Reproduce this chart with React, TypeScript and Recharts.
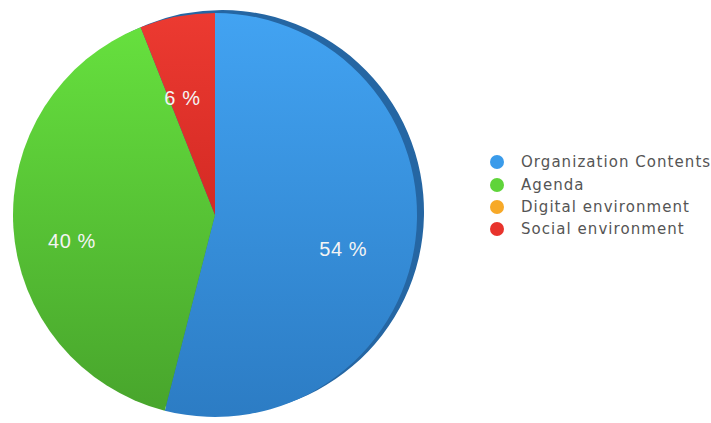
import React from 'react';
import { PieChart, Pie, Cell, Legend } from 'recharts';

const categories = ['Organization Contents', 'Agenda', 'Digital environment', 'Social environment'];
const values = [54, 40, 0, 6];
const colors = ['#3a9bea', '#5fd43a', '#f7a928', '#e8332c'];
const gradTop = ['#42a3f2', '#66e03e', '#f9b13a', '#ec3a31'];
const gradBottom = ['#2c7cc4', '#48a52c', '#e0901c', '#d42a24'];

const data = categories.map((name, i) => ({ name, value: values[i] }));

const RADIAN = Math.PI / 180;

const renderLabel = (props: any) => {
  const { cx, cy, midAngle, outerRadius, value } = props;
  if (!value) return null;
  const r = outerRadius * 0.675;
  const x = cx + r * Math.cos(-midAngle * RADIAN) - 7;
  const y = cy + r * Math.sin(-midAngle * RADIAN) + 17;
  return (
    <text
      x={x}
      y={y}
      fill="#f4f4f4"
      textAnchor="middle"
      dominantBaseline="central"
      style={{ fontFamily: '"Liberation Sans", Arial, sans-serif', fontSize: 20, letterSpacing: 0.6 }}
    >
      {`${value} %`}
    </text>
  );
};

const LegendContent = () => (
  <div style={{ fontFamily: '"DejaVu Sans", Verdana, sans-serif', fontSize: 15, color: '#555' }}>
    {categories.map((c, i) => (
      <div key={c} style={{ display: 'flex', alignItems: 'center', height: 22.4 }}>
        <span
          style={{
            display: 'inline-block',
            width: 14,
            height: 14,
            borderRadius: 7,
            background: colors[i],
            marginRight: 17,
            flexShrink: 0,
          }}
        />
        <span style={{ letterSpacing: 1.05, whiteSpace: 'nowrap' }}>{c}</span>
      </div>
    ))}
  </div>
);

export default function App() {
  return (
    <div style={{ position: 'absolute', left: 0, top: 0, width: 711, height: 423, background: '#fff' }}>
      <PieChart width={711} height={423} margin={{ top: 0, right: 0, bottom: 0, left: 0 }}>
        <defs>
          {categories.map((c, i) => (
            <linearGradient key={c} id={`g${i}`} x1="0" y1="0" x2="0" y2="1">
              <stop offset="0%" stopColor={gradTop[i]} />
              <stop offset="100%" stopColor={gradBottom[i]} />
            </linearGradient>
          ))}
        </defs>
        <Pie
          data={data}
          dataKey="value"
          nameKey="name"
          cx={222}
          cy={212}
          outerRadius={202}
          startAngle={90}
          endAngle={-270}
          stroke="none"
          fill="#2566a3"
          isAnimationActive={false}
          legendType="none"
        >
          {categories.map((c) => (
            <Cell key={c} fill="#2566a3" />
          ))}
        </Pie>
        <Pie
          data={data}
          dataKey="value"
          nameKey="name"
          cx={215}
          cy={215}
          outerRadius={202}
          startAngle={90}
          endAngle={-270}
          stroke="none"
          isAnimationActive={false}
          label={renderLabel}
          labelLine={false}
        >
          {categories.map((c, i) => (
            <Cell key={c} fill={`url(#g${i})`} />
          ))}
        </Pie>
        <Legend
          layout="vertical"
          align="right"
          verticalAlign="middle"
          content={() => <LegendContent />}
          wrapperStyle={{ position: 'absolute', left: 490, top: 151, width: 221 }}
        />
      </PieChart>
    </div>
  );
}
